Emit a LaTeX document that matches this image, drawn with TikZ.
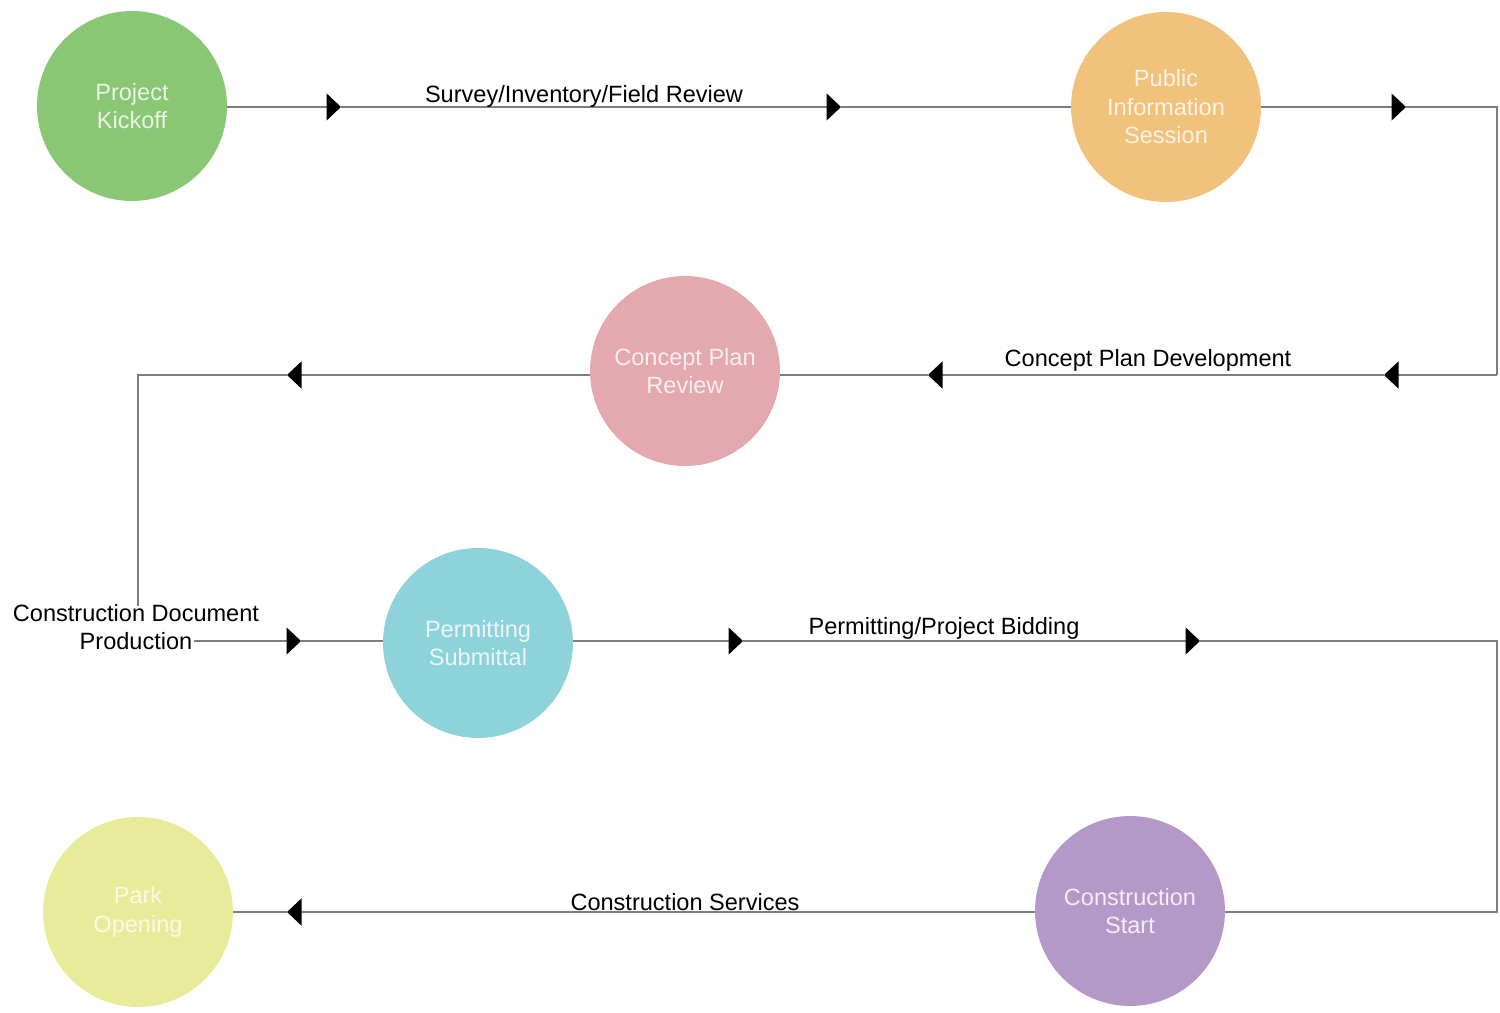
\documentclass[tikz,border=0pt]{standalone}
\usepackage{fontspec}
\setmainfont{Liberation Sans}
\usetikzlibrary{arrows.meta}
\definecolor{cgreen}{RGB}{138,199,116}
\definecolor{corange}{RGB}{240,194,124}
\definecolor{cpink}{RGB}{227,169,174}
\definecolor{cteal}{RGB}{143,211,218}
\definecolor{cyellow}{RGB}{232,236,154}
\definecolor{cpurple}{RGB}{180,152,200}
\definecolor{cline}{RGB}{125,125,125}
\tikzset{
  stage/.style={circle, minimum size=3.8cm, inner sep=0pt, align=center,
    font=\fontsize{13.4pt}{16.2pt}\selectfont},
  lbl/.style={font=\fontsize{13.4pt}{16.2pt}\selectfont, text=black, align=center, inner sep=0pt},
  conn/.style={draw=cline, line width=0.8pt},
  arr/.style={conn, -{Triangle[length=0.29cm,width=0.54cm,black]}}
}
\begin{document}
\begin{tikzpicture}[x=0.02cm,y=-0.02cm]
\useasboundingbox (0,0) rectangle (1500,1013);
% stages
\node[stage, fill=cgreen, text=white!82!cgreen] (pk) at (132,106) {Project\\Kickoff};
\node[stage, fill=corange, text=white!80!corange] (pis) at (1166,107) {Public\\Information\\Session};
\node[stage, fill=cpink, text=white!82!cpink] (cpr) at (685,371) {Concept Plan\\Review};
\node[stage, fill=cteal, text=white!82!cteal] (ps) at (478,643) {Permitting\\Submittal};
\node[stage, fill=cyellow, text=white!75!cyellow] (po) at (138,912) {Park\\Opening};
\node[stage, fill=cpurple, text=white!85!cpurple] (cs) at (1130,911) {Construction\\Start};
% coordinates
\coordinate (a1) at (341,107);
\coordinate (a2) at (841,107);
\coordinate (a3) at (1406,107);
\coordinate (k1) at (1497,107);
\coordinate (k2) at (1497,375);
\coordinate (a4) at (1384,375);
\coordinate (a5) at (928,375);
\coordinate (a6) at (287,375);
\coordinate (k3) at (138,375);
\coordinate (k4) at (138,606);
\coordinate (k5) at (194,641);
\coordinate (a7) at (301,641);
\coordinate (a8) at (743,641);
\coordinate (a9) at (1200,641);
\coordinate (k6) at (1497,641);
\coordinate (k7) at (1497,912);
\coordinate (a10) at (287,912);
% connectors
\draw[arr] (pk.east |- a1) -- (a1);
\draw[arr] (a1) -- (a2);
\draw[conn] (a2) -- (pis.west |- a2);
\draw[arr] (pis.east |- a3) -- (a3);
\draw[conn] (a3) -- (k1) -- (k2);
\draw[arr] (k2) -- (a4);
\draw[arr] (a4) -- (a5);
\draw[conn] (a5) -- (cpr.east |- a5);
\draw[arr] (cpr.west |- a6) -- (a6);
\draw[conn] (a6) -- (k3) -- (k4);
\draw[arr] (k5) -- (a7);
\draw[conn] (a7) -- (ps.west |- a7);
\draw[arr] (ps.east |- a8) -- (a8);
\draw[arr] (a8) -- (a9);
\draw[conn] (a9) -- (k6) -- (k7) -- (cs.east |- k7);
\draw[arr] (cs.west |- a10) -- (a10);
\draw[conn] (a10) -- (po.east |- a10);
% labels
\node[lbl] (l1) at (584,96) {Survey/Inventory/Field Review};
\node[lbl] (l2) at (1148,360) {Concept Plan Development};
\node[lbl] (l3) at (136,627) {Construction Document\\Production};
\node[lbl] (l4) at (944,628) {Permitting/Project Bidding};
\node[lbl] (l5) at (685,902) {Construction Services};
\end{tikzpicture}
\end{document}
